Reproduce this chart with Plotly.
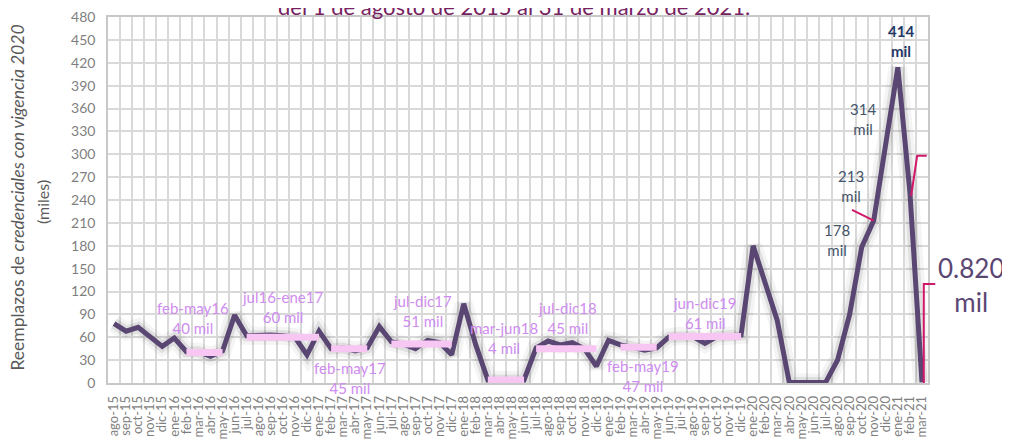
import plotly.graph_objects as go

# months ago-15 .. mar-21
months = [
    'ago-15', 'sep-15', 'oct-15', 'nov-15', 'dic-15',
    'ene-16', 'feb-16', 'mar-16', 'abr-16', 'may-16', 'jun-16', 'jul-16', 'ago-16', 'sep-16', 'oct-16', 'nov-16', 'dic-16',
    'ene-17', 'feb-17', 'mar-17', 'abr-17', 'may-17', 'jun-17', 'jul-17', 'ago-17', 'sep-17', 'oct-17', 'nov-17', 'dic-17',
    'ene-18', 'feb-18', 'mar-18', 'abr-18', 'may-18', 'jun-18', 'jul-18', 'ago-18', 'sep-18', 'oct-18', 'nov-18', 'dic-18',
    'ene-19', 'feb-19', 'mar-19', 'abr-19', 'may-19', 'jun-19', 'jul-19', 'ago-19', 'sep-19', 'oct-19', 'nov-19', 'dic-19',
    'ene-20', 'feb-20', 'mar-20', 'abr-20', 'may-20', 'jun-20', 'jul-20', 'ago-20', 'sep-20', 'oct-20', 'nov-20', 'dic-20',
    'ene-21', 'feb-21', 'mar-21',
]

# reemplazos (miles)
reemplazos = [
    78, 68, 73, 61, 48,
    59, 41, 41, 35, 42, 89, 62, 63, 63, 62, 60, 37,
    68, 45, 46, 42, 46, 74, 54, 51, 45, 56, 53, 37,
    104, 50, 4, 4, 4, 4, 46, 55, 50, 53, 45, 22,
    56, 50, 47, 43, 46, 60, 62, 61, 52, 61, 62, 63,
    180, 130, 82, 0.5, 0.5, 0.5, 0.5, 30, 90, 178, 213, 314,
    414, 250, 0.82,
]

# promedios por periodo
seg_start = ['feb-16', 'jul-16', 'feb-17', 'jul-17', 'mar-18', 'jul-18', 'feb-19', 'jun-19']
seg_end = ['may-16', 'ene-17', 'may-17', 'dic-17', 'jun-18', 'dic-18', 'may-19', 'dic-19']
seg_value = [40, 60, 45, 51, 4, 45, 47, 61]
seg_label = ['feb-may16', 'jul16-ene17', 'feb-may17', 'jul-dic17', 'mar-jun18', 'jul-dic18', 'feb-may19', 'jun-dic19']
# label centre (category index, value)
seg_label_pos = [(6.55, 85), (14.0, 100), (19.6, 6), (25.6, 94), (32.3, 59), (37.6, 85), (43.9, 9), (49.0, 92)]

peak_labels = [('178<br>mil', 59.95, 187), ('213<br>mil', 61.1, 259), ('314<br>mil', 62.1, 346), ('250<br>mil', 69.1, 296)]

LINE = '#5A4673'
PINK = '#F8C6F3'
LAB = '#CF8CF0'
CRIMSON = '#D2186A'
FONT = 'Lato, Open Sans, sans-serif'
YMAX = 480
n = len(months)


def xp(i):
    return (i + 0.5) / n


def yp(v):
    return v / YMAX


fig = go.Figure()

# soft shadow under the main line
for w, a in [(18, 0.05), (11, 0.10)]:
    fig.add_trace(go.Scatter(x=months, y=reemplazos, mode='lines',
                             line=dict(color=f'rgba(40,40,40,{a})', width=w),
                             hoverinfo='skip', showlegend=False))

fig.add_trace(go.Scatter(x=months, y=reemplazos, mode='lines',
                         line=dict(color=LINE, width=5), showlegend=False))

for s, e, v in zip(seg_start, seg_end, seg_value):
    fig.add_trace(go.Scatter(x=[s, e], y=[v, v], mode='lines',
                             line=dict(color=PINK, width=7), showlegend=False))

annotations = []
for lab, v, (ix, iy) in zip(seg_label, seg_value, seg_label_pos):
    annotations.append(dict(x=ix, y=iy, xref='x', yref='y', showarrow=False,
                            text=f'{lab}<br>{v} mil', font=dict(size=15, color=LAB, family=FONT)))

for t, ix, iy in peak_labels:
    annotations.append(dict(x=ix, y=iy, xref='x', yref='y', showarrow=False, text=t,
                            font=dict(size=15, color='#44546A', family=FONT)))

annotations.append(dict(x=65.25, y=448, xref='x', yref='y', showarrow=False, text='<b>414<br>mil</b>',
                        font=dict(size=15, color='#1F3864', family=FONT)))
annotations.append(dict(x=xp(71.1), y=yp(128), xref='paper', yref='paper', xanchor='center', yanchor='middle',
                        showarrow=False, text='0.820<br>mil', font=dict(size=26, color=LINE, family=FONT)))

# title (sits right at the top edge as in the source)
annotations.append(dict(x=0.495, y=1, xref='paper', yref='paper', xanchor='center', yanchor='bottom', yshift=-5,
                        showarrow=False, text='del 1 de agosto de 2015 al 31 de marzo de 2021.',
                        font=dict(size=22, color='#762160', family=FONT)))

# y axis title
annotations.append(dict(x=-0.11, y=0.506, xref='paper', yref='paper', xanchor='center', yanchor='middle',
                        showarrow=False, textangle=-90,
                        text='Reemplazos de <i>credenciales con vigencia 2020</i>',
                        font=dict(size=17.5, color='#595959', family=FONT)))
annotations.append(dict(x=-0.079, y=0.495, xref='paper', yref='paper', xanchor='center', yanchor='middle',
                        showarrow=False, textangle=-90,
                        text='(miles)', font=dict(size=16, color='#595959', family=FONT)))

# leader lines
shapes = [
    dict(type='line', xref='paper', yref='paper', x0=xp(61.2), y0=yp(227), x1=xp(63), y1=yp(213),
         line=dict(color=CRIMSON, width=2)),
    dict(type='path', xref='paper', yref='paper',
         path=f'M {xp(66.1)},{yp(245)} L {xp(66.6)},{yp(298)} L {xp(67.4)},{yp(298)}',
         line=dict(color=CRIMSON, width=2)),
    dict(type='path', xref='paper', yref='paper',
         path=f'M {xp(67.15)},{yp(0)} L {xp(67.15)},{yp(130)} L {xp(68.1)},{yp(130)}',
         line=dict(color=CRIMSON, width=2)),
]

# the page adds an 8px body margin, so the margins are trimmed to match
fig.update_layout(
    width=1010, height=441,
    margin=dict(l=100, r=90, t=9, b=66),
    paper_bgcolor='white', plot_bgcolor='white',
    font=dict(family=FONT),
    annotations=annotations, shapes=shapes,
    showlegend=False,
)

fig.update_xaxes(type='category', tickson='boundaries', range=[-0.5, n - 0.5],
                 tickmode='linear', tick0=0, dtick=1, automargin=False,
                 showgrid=True, gridcolor='#D9D9D9', gridwidth=1.5,
                 tickangle=-90, tickfont=dict(size=13, color='#7F7F7F'),
                 ticks='', ticklabelstandoff=6,
                 showline=True, mirror=True, linecolor='#C8C8C8', linewidth=1.5)
fig.update_yaxes(range=[0, YMAX], tickvals=list(range(0, YMAX + 1, 30)), automargin=False,
                 ticklabeloverflow='allow',
                 showgrid=True, gridcolor='#D9D9D9', gridwidth=1.5, zeroline=False,
                 tickfont=dict(size=14, color='#7F7F7F'), ticks='', ticklabelstandoff=8,
                 showline=True, mirror=True, linecolor='#C8C8C8', linewidth=1.5)

fig.write_html('out.html')
